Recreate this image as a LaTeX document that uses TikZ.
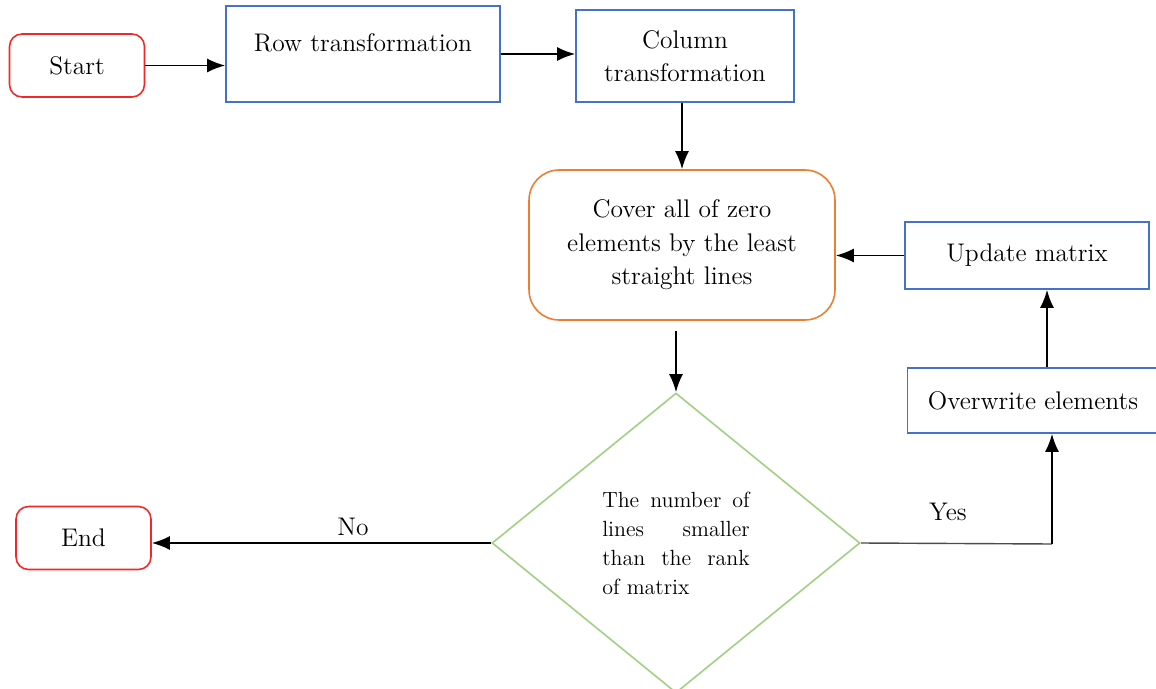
\documentclass[tikz,border=0pt]{standalone}
\usetikzlibrary{shapes.geometric, arrows.meta}
\definecolor{termred}{RGB}{240,40,40}
\definecolor{procblue}{RGB}{68,114,196}
\definecolor{coverorange}{RGB}{237,125,49}
\definecolor{testgreen}{RGB}{160,208,130}
\tikzset{
  term/.style = {draw = termred, rounded corners = .25cm, line width = .9pt,
                 minimum width = 2.7cm, minimum height = 1.26cm},
  proc/.style = {draw = procblue, line width = .9pt, align = center},
  flow/.style = {-{Latex[length = 3.6mm, width = 2.8mm]}, line width = 1.1pt},
  branch/.style = {line width = .8pt, draw = black!70}
}
\begin{document}
\begin{tikzpicture}[x = .02cm, y = -.02cm, font = \fontsize{14.5}{19}\selectfont]
      \useasboundingbox (0,0) rectangle (1156,689);
      \node [term] (start) at (77,65.5) {Start};
      \node [proc, minimum width = 5.48cm, minimum height = 1.92cm,
             text depth = .45cm]
        (row) at (363,54) {Row transformation};
      \node [proc, minimum width = 4.36cm, minimum height = 1.84cm]
        (col) at (685,56) {Column\\transformation};
      \node [draw = coverorange, rounded corners = .6cm, line width = .9pt,
             minimum width = 6.12cm, minimum height = 3cm, align = center]
        (cover) at (682,245) {Cover all of zero\\elements by the least\\straight lines};
      \node [proc, minimum width = 4.88cm, minimum height = 1.34cm]
        (update) at (1027,255.5) {Update matrix};
      \node [proc, minimum width = 5.02cm, minimum height = 1.3cm]
        (over) at (1033,400.5) {Overwrite elements};
      \node [diamond, draw = testgreen, line width = .9pt, inner sep = 0pt,
             minimum width = 7.36cm, minimum height = 6cm,
             text width = 2.95cm, align = justify,
             font = \fontsize{12.5}{16.5}\selectfont]
        (test) at (676,543) {The number of\linebreak lines smaller\linebreak
                             than the rank\linebreak of matrix};
      \node [term] (end) at (83.5,538) {End};
      \coordinate (turn) at (1052,544);
      \draw [flow] (start.east) -- (start.east -| row.west);
      \draw [flow] (row.east) -- (row.east -| col.west);
      \draw [flow] (col.south -| cover.north) -- (cover.north);
      \draw [flow] (update.west) -- (update.west -| cover.east);
      \draw [flow] ([xshift = .28cm] over.north) -- ([xshift = .28cm] over.north |- update.south);
      \draw [flow] ([yshift = -.2cm] test.north |- cover.south) -- (test.north);
      \draw [branch] (test.east) -- (turn);
      \draw [flow] (turn) -- (turn |- over.south);
      \draw [flow] (test.west) -- (test.west -| end.east);
      \node (yes) at (948,512) {Yes};
      \node (no) at (353,527) {No};
    \end{tikzpicture}
\end{document}
